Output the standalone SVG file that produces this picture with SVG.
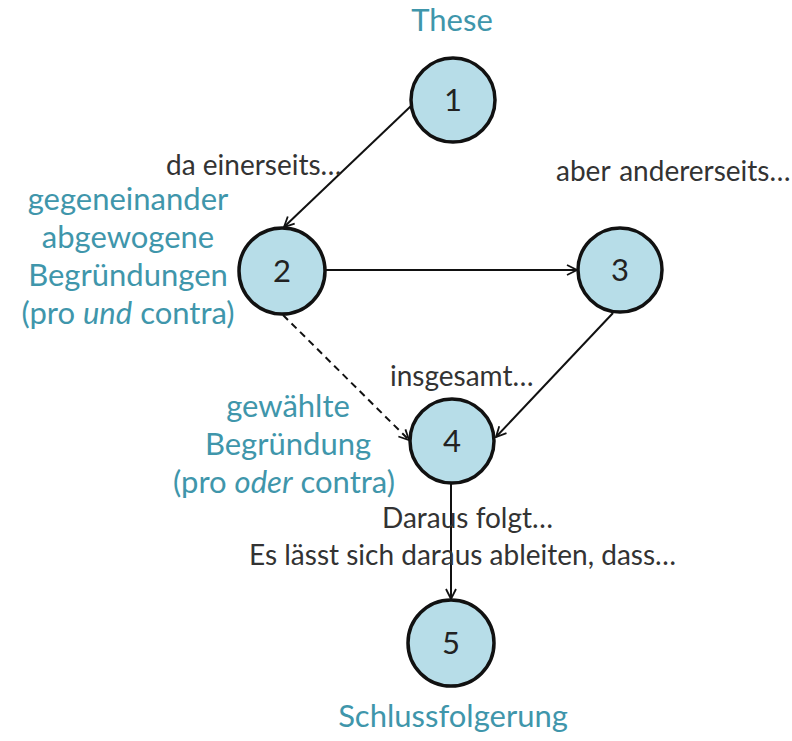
<svg xmlns="http://www.w3.org/2000/svg" width="792" height="741" viewBox="0 0 792 741">
<defs>
<marker id="arr" viewBox="0 0 12 12" refX="11" refY="6" markerWidth="12" markerHeight="12" markerUnits="userSpaceOnUse" orient="auto">
<path d="M1,1 L11,6 L1,11" fill="none" stroke="#111" stroke-width="1.8"/>
</marker>
<style>
.node circle{fill:#b7dde8;stroke:#111;stroke-width:3.5}
.num{font-family:Lato,"Open Sans",sans-serif;font-size:31px;fill:#222;text-anchor:middle}
.blue{font-family:Lato,"Open Sans",sans-serif;font-size:31px;fill:#3f96ab;text-anchor:middle}
.dark{font-family:Lato,"Open Sans",sans-serif;font-size:28px;fill:#333}
.edge{stroke:#111;stroke-width:2;fill:none;marker-end:url(#arr)}
</style>
</defs>
<rect width="792" height="741" fill="#fff"/>
<g id="connectors">
<line class="edge" x1="411" y1="106" x2="284" y2="227"/>
<line class="edge" x1="326" y1="270" x2="577" y2="270"/>
<line class="edge" x1="283" y1="315" x2="409" y2="440" stroke-dasharray="7,5"/>
<line class="edge" x1="613" y1="313" x2="496" y2="437"/>
<line class="edge" x1="451" y1="484" x2="451" y2="599"/>
</g>
<g id="node1" class="node"><circle cx="453" cy="100" r="42"/><text class="num" x="453" y="111">1</text></g>
<g id="node2" class="node"><circle cx="282" cy="271" r="43"/><text class="num" x="282" y="282">2</text></g>
<g id="node3" class="node"><circle cx="620" cy="270" r="42"/><text class="num" x="620" y="281">3</text></g>
<g id="node4" class="node"><circle cx="452" cy="441" r="42"/><text class="num" x="452" y="452">4</text></g>
<g id="node5" class="node"><circle cx="451" cy="643" r="43"/><text class="num" x="451" y="654">5</text></g>
<g id="labels">
<text class="blue" x="128" y="210">gegeneinander</text>
<text class="blue" x="128" y="248">abgewogene</text>
<text class="blue" x="128" y="286">Begründungen</text>
<text class="blue" x="128" y="324">(pro <tspan font-style="italic">und</tspan> contra)</text>
<text class="blue" x="452" y="31">These</text>
<text class="blue" x="288" y="417">gewählte</text>
<text class="blue" x="288" y="455">Begründung</text>
<text class="blue" x="284" y="493">(pro <tspan font-style="italic">oder</tspan> contra)</text>
<text class="blue" x="453" y="727">Schlussfolgerung</text>
<text class="dark" x="166" y="175">da einerseits…</text>
<text class="dark" x="556" y="181">aber <tspan dx="2">andererseits…</tspan></text>
<text class="dark" x="390" y="386">insgesamt…</text>
<text class="dark" x="382" y="528">Daraus folgt…</text>
<text class="dark" x="249" y="565">Es lässt sich daraus ableiten, dass…</text>
</g>
</svg>
